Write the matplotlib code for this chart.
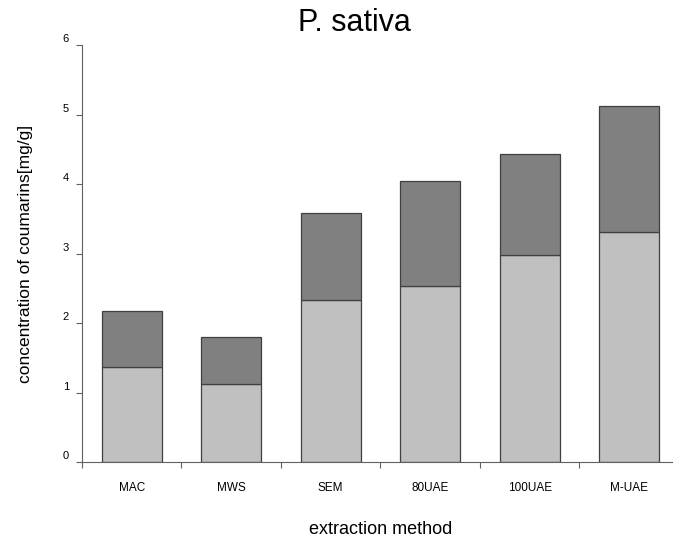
import matplotlib

matplotlib.use('Agg')

from matplotlib import pyplot as plt
from matplotlib.ticker import FixedLocator, NullFormatter
from matplotlib.transforms import ScaledTranslation

plt.rcParams['font.family'] = ['Liberation Sans', 'DejaVu Sans']

##### Data #####
methods = ['MAC', 'MWS', 'SEM', '80UAE', '100UAE', 'M-UAE']
lower_part = [1.37, 1.12, 2.34, 2.53, 2.98, 3.31]
upper_total = [2.18, 1.80, 3.59, 4.04, 4.43, 5.13]
upper_part = [t - b for t, b in zip(upper_total, lower_part)]

##### Figure #####
fig = plt.figure(figsize=(6.73, 5.39), dpi=100)
ax = fig.add_axes([0.1218, 0.1423, 0.887, 0.7742])

x = list(range(len(methods)))
ax.bar(x, lower_part, width=0.6, color='#c0c0c0', edgecolor='#404040', linewidth=0.9)
ax.bar(x, upper_part, width=0.6, bottom=lower_part, color='#808080', edgecolor='#404040', linewidth=0.9)

ax.set_xlim(-0.5, len(methods) - 0.5)
ax.set_ylim(0, 6)
ax.set_yticks(range(0, 7))
ax.tick_params(axis='y', direction='out', length=4.3, width=0.8, color='#606060', labelsize=8, pad=5)
# the tick numbers sit a little above their tick marks
for lab in ax.get_yticklabels():
    lab.set_transform(lab.get_transform() + ScaledTranslation(0, 0.07, fig.dpi_scale_trans))

# labels centred under bars, tick marks between categories
ax.set_xticks(x)
ax.set_xticklabels(methods, fontsize=8.5)
ax.tick_params(axis='x', which='major', length=0, pad=14)
ax.xaxis.set_minor_locator(FixedLocator([i - 0.5 for i in range(len(methods) + 1)]))
ax.xaxis.set_minor_formatter(NullFormatter())
ax.tick_params(axis='x', which='minor', direction='out', length=4, width=0.8, color='#606060')

for s in ['top', 'right']:
    ax.spines[s].set_visible(False)
for s in ['left', 'bottom']:
    ax.spines[s].set_color('#606060')
    ax.spines[s].set_linewidth(0.8)

ax.set_ylabel('concentration of coumarins[mg/g]', fontsize=12.5)
ax.yaxis.set_label_coords(-0.082, 0.5)
fig.text(0.566, 0.0093, 'extraction method', ha='center', va='baseline', fontsize=13)
fig.text(0.527, 0.9425, 'P. sativa', ha='center', va='baseline', fontsize=22)

plt.savefig('out.png', dpi=100)
